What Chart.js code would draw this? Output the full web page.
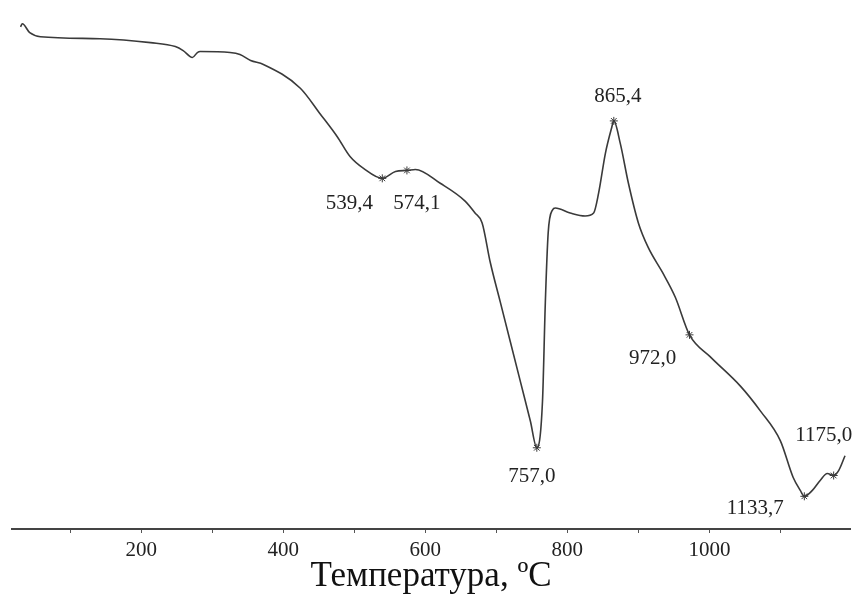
<!DOCTYPE html>
<html>
<head>
<meta charset="utf-8">
<script src="https://cdn.jsdelivr.net/npm/chart.js@4"></script>
<style>
  body { margin: 0; background: #fff; }
  #wrap { width: 859px; height: 598px; }
</style>
</head>
<body>
<div id="wrap"><canvas id="myChart"></canvas></div>
<script>
// Данные кривой ДТА (температура, сигнал в условных единицах)
const temps = [30, 32.5, 43, 58, 142, 213, 248, 259, 272, 279, 283, 325, 339, 354, 372, 424, 452, 476, 494, 513,
  539.4, 558, 574.1, 586, 621, 656, 670, 680, 691.5, 705.6, 719.7, 733.8, 747.9, 757, 765, 769, 773, 779, 783,
  804, 825, 837, 844, 853.5, 862, 865.4, 874.6, 886, 900, 914, 934, 952, 972, 1001, 1044, 1072, 1100,
  1118, 1128, 1133.7, 1145, 1156, 1166, 1175, 1182, 1191];
const dtaSignal = [507, 510, 501, 497, 495, 491, 487, 483, 476, 481, 482, 481, 479, 473, 469, 445, 419, 396, 376, 364,
  354, 361, 362, 363, 349, 331, 319, 309, 269, 229, 189, 149, 109, 82, 129, 229, 299, 322, 324,
  319, 316, 319, 339, 379, 404, 412, 389, 349, 309, 284, 259, 234, 196, 174, 144, 119, 89,
  52, 39, 33, 39, 49, 56, 54, 59, 74];

// Отмеченные точки
const peakTemps = [539.4, 574.1, 757.0, 865.4, 972.0, 1133.7, 1175.0];
const peakValues = [354, 362, 82, 412, 196, 33, 54];
const peakLabels = ['539,4', '574,1', '757,0', '865,4', '972,0', '1133,7', '1175,0'];

// Ось X
const xTicks = [100, 200, 300, 400, 500, 600, 700, 800, 900, 1000, 1100];
const xTitle = 'Температура, ºC';

// смещения подписей относительно точек (px)
const labelOffsets = [[-33, 25], [10, 33], [-5, 29], [4, -24], [-37, 24], [-49, 12], [-10, -40]];

const curve = temps.map((t, i) => ({ x: t, y: dtaSignal[i] }));
const marks = peakTemps.map((t, i) => ({ x: t, y: peakValues[i] }));

const peakTextPlugin = {
  id: 'peakText',
  afterDatasetsDraw(chart) {
    const { ctx, scales } = chart;
    ctx.save();
    ctx.font = '21px "Liberation Serif", "Times New Roman", serif';
    ctx.fillStyle = '#222';
    ctx.textAlign = 'center';
    ctx.textBaseline = 'middle';
    peakTemps.forEach((t, i) => {
      const x = scales.x.getPixelForValue(t) + labelOffsets[i][0];
      const y = scales.y.getPixelForValue(peakValues[i]) + labelOffsets[i][1];
      ctx.fillText(peakLabels[i], x, y);
    });
    ctx.restore();
  }
};

const config = {
  type: 'line',
  data: {
    datasets: [{
      data: curve,
      borderColor: '#3a3a3a',
      borderWidth: 1.6,
      pointRadius: 0,
      cubicInterpolationMode: 'monotone',
      fill: false
    }, {
      data: marks,
      showLine: false,
      pointStyle: 'star',
      pointRadius: 4,
      borderColor: '#3a3a3a',
      borderWidth: 1
    }]
  },
  options: {
    responsive: true,
    maintainAspectRatio: false,
    animation: false,
    layout: { padding: { left: 12, right: 9, top: 0, bottom: 0 } },
    plugins: { legend: { display: false }, tooltip: { enabled: false } },
    scales: {
      x: {
        type: 'linear',
        min: 18,
        max: 1198,
        afterBuildTicks: (s) => { s.ticks = xTicks.map(v => ({ value: v })); },
        afterFit: (s) => { s.height = 69; },
        border: { display: true, color: '#444', width: 2 },
        grid: { display: true, drawOnChartArea: false, drawTicks: true, tickLength: 4, color: '#555' },
        ticks: {
          autoSkip: false,
          maxRotation: 0,
          padding: 5,
          color: '#222',
          font: { family: '"Liberation Serif", "Times New Roman", serif', size: 21 },
          callback: (v) => (v % 200 === 0 ? String(v) : '')
        },
        title: {
          display: true,
          text: xTitle,
          color: '#111',
          padding: { top: 0, bottom: 0 },
          font: { family: '"Liberation Serif", "Times New Roman", serif', size: 35 }
        }
      },
      y: {
        display: false,
        min: 0,
        max: 529
      }
    }
  },
  plugins: [peakTextPlugin]
};

const ctx = document.getElementById('myChart').getContext('2d');
const myChart = new Chart(ctx, config);
</script>
</body>
</html>
